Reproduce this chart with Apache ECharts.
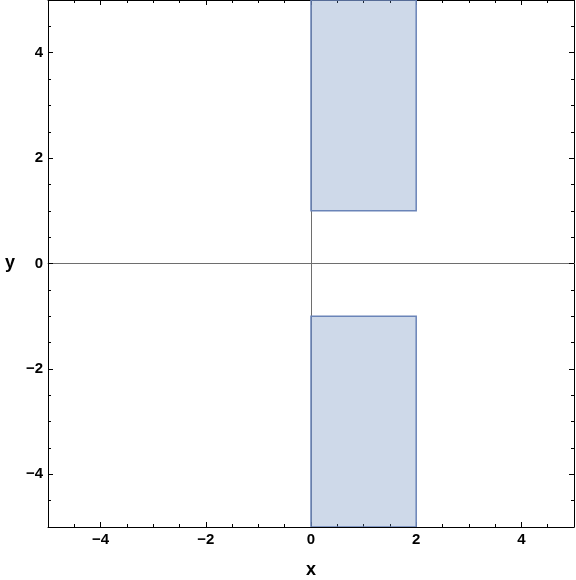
<!DOCTYPE html>
<html>
<head>
<meta charset="utf-8">
<script src="https://cdn.jsdelivr.net/npm/echarts@6/dist/echarts.min.js"></script>
<style>
  html, body { margin: 0; padding: 0; background: #fff; }
  #main { width: 576px; height: 580px; }
</style>
</head>
<body>
<div id="main"></div>
<script>
// plot range and ticks
var axisMin = -5
var axisMax = 5
var majorTicks = [-4, -2, 0, 2, 4]
var minorStep = 0.5

// shaded regions: [xFrom, xTo, yFrom, yTo]
var regionTop = [0, 2, 1, 5]
var regionBottom = [0, 2, -5, -1]
var regions = [regionTop, regionBottom]

var fontFamily = '"Liberation Sans", Arial, sans-serif'

function fmt(v) {
  return String(v).replace('-', '\u2212')
}

function labelStyle(show) {
  return {
    show: show,
    customValues: majorTicks,
    formatter: fmt,
    margin: 5,
    color: '#000',
    fontFamily: fontFamily,
    fontSize: 15,
    fontWeight: 'bold'
  }
}

function majorAxis(pos, showLabel, extra) {
  var a = {
    type: 'value',
    position: pos,
    min: axisMin,
    max: axisMax,
    interval: minorStep,
    axisLine: { show: true, onZero: false, lineStyle: { color: '#000', width: 1 } },
    axisTick: { show: true, inside: true, length: 5, customValues: majorTicks, lineStyle: { color: '#000' } },
    axisLabel: labelStyle(showLabel),
    splitLine: { show: false }
  }
  return Object.assign(a, extra || {})
}

function minorAxis(pos) {
  return {
    type: 'value',
    position: pos,
    min: axisMin,
    max: axisMax,
    interval: minorStep,
    axisLine: { show: false, onZero: false },
    axisTick: { show: true, inside: true, length: 3, lineStyle: { color: '#000' } },
    axisLabel: { show: false },
    splitLine: { show: false }
  }
}

function zeroAxis(other) {
  return {
    type: 'value',
    min: axisMin,
    max: axisMax,
    interval: minorStep,
    axisLine: { show: true, onZero: true, onZeroAxisIndex: other, lineStyle: { color: '#6e6e6e', width: 1 } },
    axisTick: { show: false },
    axisLabel: { show: false },
    splitLine: { show: false }
  }
}

var nameStyle = { color: '#000', fontFamily: fontFamily, fontSize: 18, fontWeight: 'bold' }

var chart = echarts.init(document.getElementById('main'))
var option = {
  animation: false,
  grid: { left: 48, right: 2, top: 0, bottom: 53, containLabel: false, outerBoundsMode: 'none' },
  xAxis: [
    majorAxis('bottom', true, {
      name: 'x',
      nameLocation: 'middle',
      nameGap: 34,
      nameTextStyle: nameStyle
    }),
    majorAxis('top', false),
    minorAxis('bottom'),
    minorAxis('top'),
    zeroAxis(0)
  ],
  yAxis: [
    majorAxis('left', true, {
      name: 'y',
      nameLocation: 'middle',
      nameGap: 33,
      nameRotate: 0,
      nameTextStyle: nameStyle
    }),
    majorAxis('right', false),
    minorAxis('left'),
    minorAxis('right'),
    zeroAxis(0)
  ],
  series: [
    {
      type: 'custom',
      xAxisIndex: 0,
      yAxisIndex: 0,
      clip: true,
      data: regions,
      renderItem: function (params, api) {
        var p0 = api.coord([api.value(0), api.value(3)])
        var p1 = api.coord([api.value(1), api.value(2)])
        return {
          type: 'rect',
          shape: { x: p0[0], y: p0[1], width: p1[0] - p0[0], height: p1[1] - p0[1] },
          style: { fill: 'rgba(94,129,181,0.3)', stroke: '#6a84b8', lineWidth: 1.5 }
        }
      }
    }
  ]
}
chart.setOption(option)
</script>
</body>
</html>
